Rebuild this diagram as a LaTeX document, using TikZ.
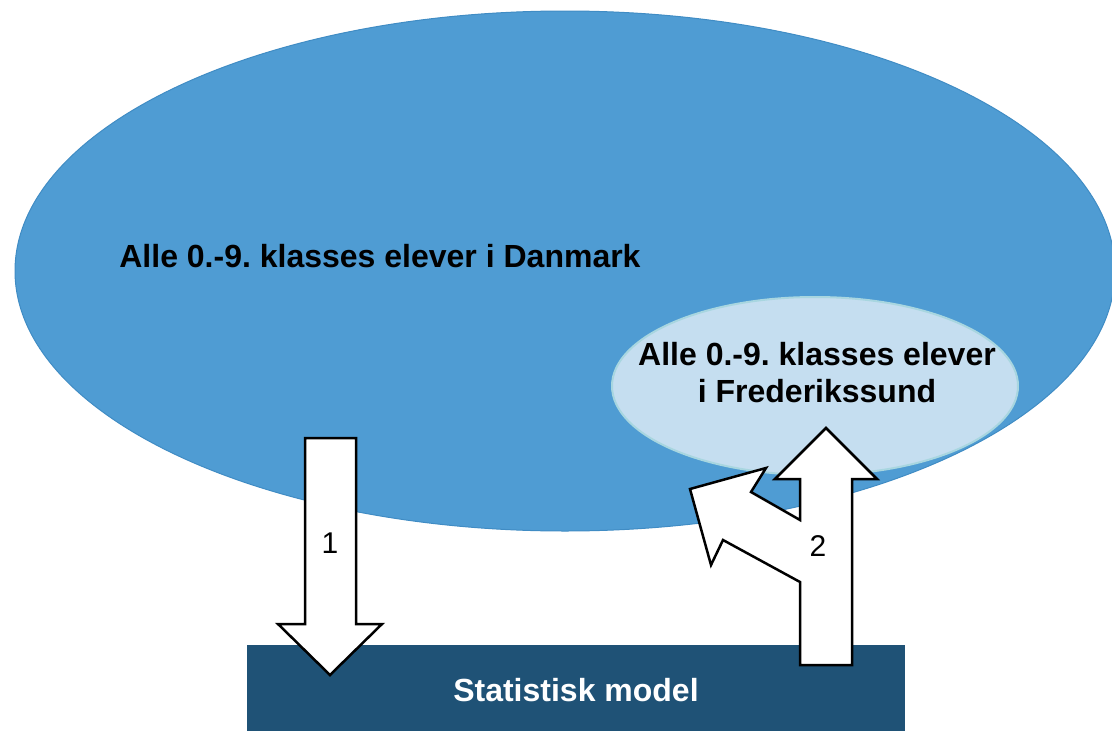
\documentclass[tikz,border=0pt]{standalone}
\usepackage{fontspec}
\setmainfont{Liberation Sans}
\usetikzlibrary{shapes.geometric}
\frenchspacing
\definecolor{bigblue}{RGB}{79,156,211}
\definecolor{bigedge}{RGB}{64,140,196}
\definecolor{smallblue}{RGB}{197,222,240}
\definecolor{smalledge}{RGB}{168,214,224}
\definecolor{modelblue}{RGB}{31,82,118}
\tikzset{
  bigell/.style={ellipse, fill=bigblue, draw=bigedge, line width=1pt, inner sep=0pt},
  smallell/.style={ellipse, fill=smallblue, draw=smalledge, line width=2pt, inner sep=0pt},
  modelbox/.style={rectangle, fill=modelblue, inner sep=0pt},
  bigtext/.style={font=\fontsize{32}{37}\selectfont\bfseries, align=center},
  whitetext/.style={font=\fontsize{32}{38}\selectfont\bfseries, text=white},
  numtext/.style={font=\fontsize{30}{36}\selectfont},
  blockarrow/.style={fill=white, draw=black, line width=2.5pt, line join=miter}
}
\begin{document}
\begin{tikzpicture}[x=1pt,y=-1pt]
\useasboundingbox (0,0) rectangle (1112,731);
\clip (0,0) rectangle (1112,731);
% large ellipse
\node[bigell, minimum width=1100pt, minimum height=520pt] (dk) at (565,271) {};
% small ellipse
\node[smallell, minimum width=406pt, minimum height=178pt] (fs) at (815,386) {};
% model box
\node[modelbox, minimum width=658pt, minimum height=90pt] (model) at (576,690) {};
% texts
\node[bigtext] (dktext) at (380,256) {Alle 0.-9. klasses elever i Danmark};
\node[bigtext] (fstext) at (817,373) {Alle 0.-9. klasses elever\\i Frederikssund};
% arrow 1 (down)
\draw[blockarrow] (305,438) -- (356,438) -- (356,624) -- (382,624) -- (330,675) -- (278,624) -- (305,624) -- cycle;
% arrow 2 (branched up)
\draw[blockarrow] (800,665) -- (800,582) -- (723,540) -- (711,565) -- (690,489) -- (766,468) -- (751,492) -- (800,520) -- (800,479) -- (775,479) -- (826,428) -- (877,479) -- (852,479) -- (852,665) -- cycle;
\node[numtext] (n1) at (330,543) {1};
\node[numtext] (n2) at (818,546) {2};
\node[whitetext] (modeltext) at (model.center) {Statistisk model};
\end{tikzpicture}
\end{document}
